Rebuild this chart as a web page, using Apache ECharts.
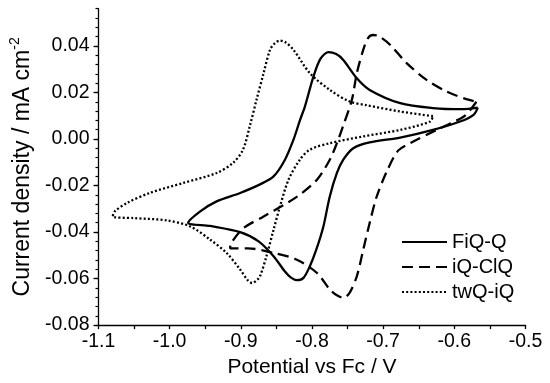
<!DOCTYPE html>
<html>
<head>
<meta charset="utf-8">
<script src="https://cdn.jsdelivr.net/npm/echarts@6/dist/echarts.min.js"></script>
<style>html,body{margin:0;padding:0;background:#fff}#c{width:550px;height:383px}</style>
</head>
<body>
<div id="c"></div>
<script>
var seriesNames = ['FiQ-Q', 'iQ-ClQ', 'twQ-iQ'];
var xTickLabels = ['-1.1', '-1.0', '-0.9', '-0.8', '-0.7', '-0.6', '-0.5'];
var yTickLabels = ['-0.08', '-0.06', '-0.04', '-0.02', '0.00', '0.02', '0.04'];

var fiqq = [
  [-0.567, 0.0135], [-0.573, 0.0104], [-0.592, 0.0075], [-0.630, 0.0039], [-0.676, 0.0006],
  [-0.719, -0.0015], [-0.742, -0.0040], [-0.756, -0.0089], [-0.765, -0.0146], [-0.775, -0.0247],
  [-0.784, -0.0376], [-0.794, -0.0476], [-0.803, -0.0547], [-0.812, -0.0597], [-0.821, -0.0607],
  [-0.830, -0.0595], [-0.838, -0.0570], [-0.854, -0.0504], [-0.875, -0.0440], [-0.901, -0.0400],
  [-0.943, -0.0374], [-0.974, -0.0360], [-0.957, -0.0311], [-0.934, -0.0268], [-0.901, -0.0232],
  [-0.873, -0.0195], [-0.854, -0.0161], [-0.838, -0.0089], [-0.826, -0.0003], [-0.817, 0.0080],
  [-0.810, 0.0139], [-0.798, 0.0268], [-0.788, 0.0345], [-0.777, 0.0373], [-0.766, 0.0365],
  [-0.756, 0.0340], [-0.737, 0.0261], [-0.719, 0.0211], [-0.676, 0.0154], [-0.630, 0.0133],
  [-0.590, 0.0128], [-0.567, 0.0135]
];
var iqclq = [
  [-0.569, 0.0160], [-0.585, 0.0100], [-0.605, 0.0068], [-0.625, 0.0039], [-0.662, -0.0018],
  [-0.679, -0.0050], [-0.695, -0.0140], [-0.709, -0.0247], [-0.719, -0.0361], [-0.728, -0.0476],
  [-0.737, -0.0590], [-0.747, -0.0660], [-0.756, -0.0683], [-0.765, -0.0672], [-0.775, -0.0647],
  [-0.793, -0.0576], [-0.822, -0.0518], [-0.854, -0.0490], [-0.890, -0.0470], [-0.915, -0.0470],
  [-0.914, -0.0450], [-0.897, -0.0385], [-0.868, -0.0333], [-0.822, -0.0250], [-0.793, -0.0175],
  [-0.775, -0.0089], [-0.765, -0.0018], [-0.757, 0.0050], [-0.744, 0.0168], [-0.737, 0.0283],
  [-0.728, 0.0383], [-0.721, 0.0435], [-0.714, 0.0447], [-0.705, 0.0440], [-0.690, 0.0404],
  [-0.667, 0.0326], [-0.639, 0.0254], [-0.611, 0.0204], [-0.583, 0.0171], [-0.569, 0.0160]
];
var twqiq = [
  [-0.630, 0.0098], [-0.676, 0.0118], [-0.723, 0.0145], [-0.747, 0.0161], [-0.775, 0.0211],
  [-0.803, 0.0283], [-0.826, 0.0383], [-0.837, 0.0415], [-0.845, 0.0423], [-0.852, 0.0412],
  [-0.859, 0.0383], [-0.868, 0.0283], [-0.878, 0.0168], [-0.887, 0.0060], [-0.897, -0.0046],
  [-0.911, -0.0103], [-0.934, -0.0146], [-0.981, -0.0189], [-1.028, -0.0232], [-1.060, -0.0275],
  [-1.077, -0.0311], [-1.080, -0.0333], [-1.051, -0.0340], [-1.004, -0.0350], [-0.971, -0.0376],
  [-0.943, -0.0433], [-0.920, -0.0490], [-0.901, -0.0561], [-0.890, -0.0608], [-0.884, -0.0619],
  [-0.877, -0.0605], [-0.873, -0.0590], [-0.864, -0.0504], [-0.854, -0.0390], [-0.845, -0.0290],
  [-0.833, -0.0175], [-0.817, -0.0089], [-0.803, -0.0046], [-0.775, -0.0018], [-0.728, 0.0011],
  [-0.676, 0.0039], [-0.634, 0.0075], [-0.630, 0.0098]
];

var FONT = 'Liberation Sans, Arial, sans-serif';
var chart = echarts.init(document.getElementById('c'), null, {renderer: 'canvas'});

function xLabel(v) {
  var s = v.toFixed(1);
  return xTickLabels.indexOf(s) >= 0 ? s : '';
}
function yLabel(v) {
  var s = v.toFixed(2);
  if (s === '-0.00') s = '0.00';
  return (yTickLabels.indexOf(s) >= 0 && Math.abs(v * 50 - Math.round(v * 50)) < 1e-6) ? s : '';
}

var lineStyles = [
  {color: '#000', width: 2.3, type: 'solid'},
  {color: '#000', width: 2.3, type: [11, 6]},
  {color: '#000', width: 2.3, type: [2, 2.2]}
];

var option = {
  backgroundColor: '#fff',
  animation: false,
  textStyle: {fontFamily: FONT, color: '#000'},
  grid: {left: 98.5, right: 24.5, top: 8.7, bottom: 57.5, containLabel: false},
  legend: {
    orient: 'vertical', left: 401, top: 232, itemGap: 5, padding: 0,
    itemWidth: 45, itemHeight: 14,
    itemStyle: {color: 'rgba(0,0,0,0)', borderColor: 'rgba(0,0,0,0)', borderWidth: 0, opacity: 0},
    textStyle: {fontSize: 20, color: '#000', fontFamily: FONT},
    data: seriesNames.slice()
  },
  xAxis: {
    type: 'value', min: -1.1, max: -0.5, interval: 0.1,
    name: 'Potential vs Fc / V', nameLocation: 'middle', nameGap: 28,
    nameTextStyle: {fontSize: 21, color: '#000', fontFamily: FONT},
    axisLine: {show: true, onZero: false, lineStyle: {color: '#000', width: 1.3}},
    axisTick: {show: true, inside: false, length: 4, lineStyle: {color: '#000', width: 1.3}},
    minorTick: {show: true, splitNumber: 2, length: 4, lineStyle: {color: '#000', width: 1.3}},
    axisLabel: {fontSize: 19.5, color: '#000', margin: 7, fontFamily: FONT, formatter: xLabel},
    splitLine: {show: false}, minorSplitLine: {show: false}
  },
  yAxis: [{
    type: 'value', min: -0.08, max: 0.056, interval: 0.02, position: 'left',
    name: '{a|Current density / mA cm}{b|-2}', nameLocation: 'middle', nameGap: 62,
    nameTextStyle: {
      color: '#000', fontFamily: FONT, fontSize: 23,
      rich: {
        a: {fontSize: 23, lineHeight: 28, fontFamily: FONT, color: '#000'},
        b: {fontSize: 14, lineHeight: 15, verticalAlign: 'top', fontFamily: FONT, color: '#000'}
      }
    },
    axisLine: {show: true, onZero: false, lineStyle: {color: '#000', width: 1.3}},
    axisTick: {show: true, inside: false, length: 5, lineStyle: {color: '#000', width: 1.3}},
    axisLabel: {fontSize: 19.5, color: '#000', margin: 9, fontFamily: FONT, formatter: yLabel, showMaxLabel: false},
    splitLine: {show: false}
  }, {
    type: 'value', min: -0.08, max: 0.056, interval: 0.004, position: 'left', offset: 0,
    axisLine: {show: false},
    axisTick: {show: true, inside: false, length: 3, lineStyle: {color: '#000', width: 1.2}},
    axisLabel: {show: false},
    splitLine: {show: false}
  }],
  series: [0, 1, 2].map(function (i) {
    return {
      name: seriesNames[i], type: 'line', data: [fiqq, iqclq, twqiq][i], smooth: 0.3,
      showSymbol: false, symbol: 'none', lineStyle: lineStyles[i], itemStyle: {color: '#000'}
    };
  })
};
chart.setOption(option);
</script>
</body>
</html>
